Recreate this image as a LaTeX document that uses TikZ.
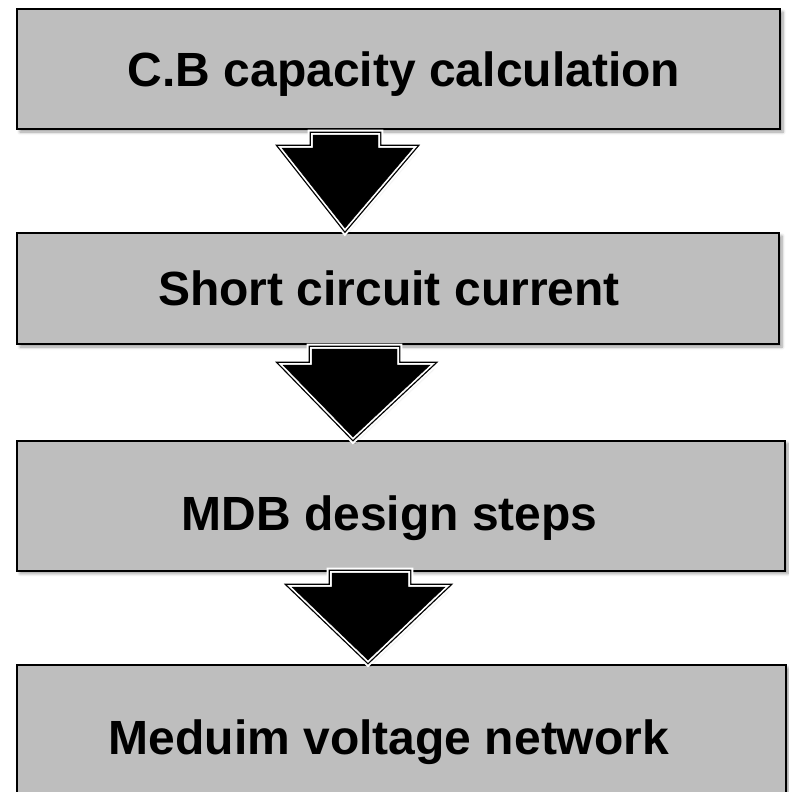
\documentclass[tikz,border=0pt]{standalone}
\usepackage{fontspec}
\setmainfont{Liberation Sans}
\usetikzlibrary{shadows.blur}
\definecolor{boxgray}{RGB}{190,190,190}
\tikzset{
  stepbox/.style={draw=black, line width=2pt, fill=boxgray, inner sep=0pt,
    blur shadow={shadow xshift=3pt, shadow yshift=-3pt, shadow blur steps=6, shadow blur radius=3pt}},
  steptext/.style={anchor=base, inner sep=0pt, font=\fontsize{48}{56}\selectfont\bfseries},
  fatarrow/.style={
    blur shadow={shadow xshift=1pt, shadow yshift=-3pt, shadow blur steps=6, shadow blur radius=4pt},
    preaction={draw=white, line width=10.6pt},
    preaction={draw=black, line width=6.6pt},
    preaction={draw=white, line width=4pt},
    fill=black, line join=miter}
}
\begin{document}
\begin{tikzpicture}[x=1pt,y=-1pt]
	\useasboundingbox (0,0) rectangle (788,792);
	% steps
	\node[stepbox, minimum width=763pt, minimum height=120pt] (cbcap) at (398.5,69) {};
	\node[stepbox, minimum width=762pt, minimum height=111pt] (short) at (398,288.5) {};
	\node[stepbox, minimum width=768pt, minimum height=130pt] (mdb) at (401,505.5) {};
	\node[stepbox, minimum width=769pt, minimum height=136pt] (mvnet) at (401.5,733) {};
	\node[steptext] (cbcaptext) at (404,86.5) {C.B capacity calculation};
	\node[steptext] (shorttext) at (389,305) {Short circuit current};
	\node[steptext] (mdbtext) at (389.5,530) {MDB design steps};
	\node[steptext] (mvnettext) at (389,754) {Meduim voltage network};

	% block arrows between the steps
	\foreach \sa/\sb/\sy/\ha/\hb/\hy/\px/\py in {313/378/135/282/413/148/345/228, 312/397/349/283/430/365/353/437, 332/408/573/292/445/587/368/660}
		\draw[fatarrow] (\sa,\sy) -- (\sb,\sy) -- (\sb,\hy) -- (\hb,\hy) -- (\px,\py) -- (\ha,\hy) -- (\sa,\hy) -- cycle;
\end{tikzpicture}
\end{document}
